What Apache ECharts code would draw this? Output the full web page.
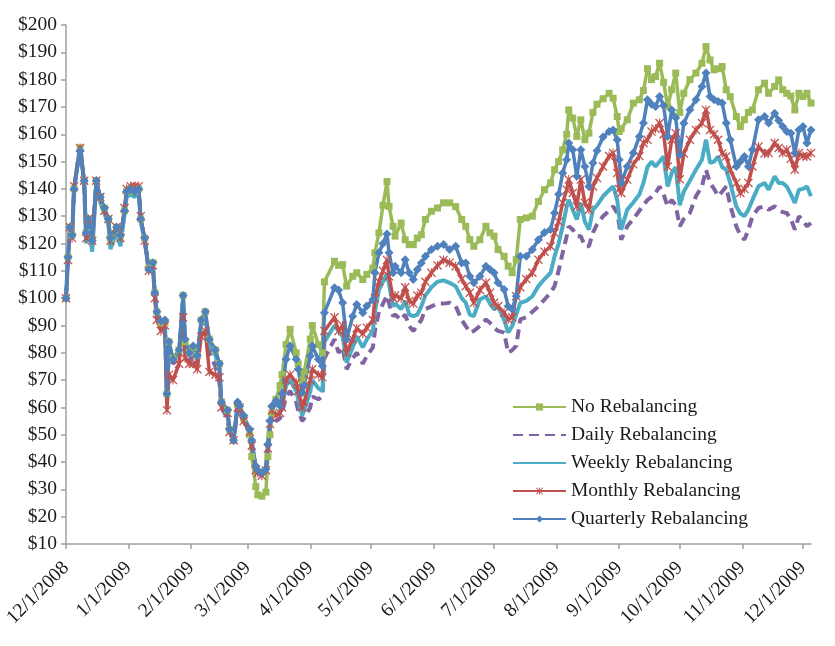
<!DOCTYPE html>
<html>
<head>
<meta charset="utf-8">
<script src="https://cdn.jsdelivr.net/npm/echarts@6/dist/echarts.min.js"></script>
<style>
  html, body { margin: 0; padding: 0; background: #fff; }
  #main { width: 835px; height: 646px; }
</style>
</head>
<body>
<div id="main"></div>
<script>
// 数据：日期 + 五条再平衡策略的组合价值（一行一个月）
var dates = [].concat(
  ['2008-12-01','2008-12-02','2008-12-03','2008-12-04','2008-12-05','2008-12-08','2008-12-10','2008-12-11','2008-12-12','2008-12-14','2008-12-16','2008-12-18','2008-12-20','2008-12-22','2008-12-23','2008-12-26','2008-12-28','2008-12-30','2008-12-31'],
  ['2009-01-02','2009-01-04','2009-01-06','2009-01-07','2009-01-09','2009-01-11','2009-01-13','2009-01-14','2009-01-15','2009-01-17','2009-01-19','2009-01-20','2009-01-21','2009-01-23','2009-01-26','2009-01-28','2009-01-29','2009-01-31'],
  ['2009-02-02','2009-02-04','2009-02-06','2009-02-08','2009-02-10','2009-02-13','2009-02-15','2009-02-16','2009-02-19','2009-02-20','2009-02-22','2009-02-24','2009-02-25','2009-02-27'],
  ['2009-03-02','2009-03-03','2009-03-05','2009-03-06','2009-03-08','2009-03-10','2009-03-11','2009-03-12','2009-03-13','2009-03-15','2009-03-17','2009-03-18','2009-03-20','2009-03-22','2009-03-25','2009-03-26','2009-03-28','2009-03-29'],
  ['2009-04-01','2009-04-02','2009-04-05','2009-04-07','2009-04-08','2009-04-13','2009-04-15','2009-04-17','2009-04-19','2009-04-22','2009-04-24','2009-04-27','2009-04-29'],
  ['2009-05-02','2009-05-03','2009-05-05','2009-05-07','2009-05-09','2009-05-10','2009-05-12','2009-05-13','2009-05-16','2009-05-18','2009-05-20','2009-05-22','2009-05-24','2009-05-26','2009-05-28','2009-05-31'],
  ['2009-06-03','2009-06-06','2009-06-09','2009-06-12','2009-06-15','2009-06-17','2009-06-19','2009-06-21','2009-06-24','2009-06-27','2009-06-29'],
  ['2009-07-01','2009-07-03','2009-07-06','2009-07-08','2009-07-10','2009-07-12','2009-07-14','2009-07-17','2009-07-20','2009-07-23','2009-07-26','2009-07-29','2009-07-31'],
  ['2009-08-02','2009-08-04','2009-08-06','2009-08-07','2009-08-09','2009-08-11','2009-08-13','2009-08-15','2009-08-17','2009-08-19','2009-08-21','2009-08-24','2009-08-27','2009-08-29','2009-08-31'],
  ['2009-09-01','2009-09-02','2009-09-05','2009-09-08','2009-09-11','2009-09-13','2009-09-15','2009-09-17','2009-09-19','2009-09-21','2009-09-23','2009-09-25','2009-09-27','2009-09-29'],
  ['2009-10-01','2009-10-03','2009-10-06','2009-10-09','2009-10-12','2009-10-14','2009-10-16','2009-10-18','2009-10-20','2009-10-22','2009-10-24','2009-10-26','2009-10-29','2009-10-31'],
  ['2009-11-02','2009-11-04','2009-11-06','2009-11-09','2009-11-12','2009-11-14','2009-11-17','2009-11-19','2009-11-21','2009-11-23','2009-11-25','2009-11-27','2009-11-29'],
  ['2009-12-01','2009-12-03','2009-12-05']
);

var noRebal = [].concat(
  [100,115,126,123,140,155,143,124,129,121,143,137,133,129,122,126,123,132,139],
  [140,139,140,129,122,111,113,102,95,91,91,65,84,78,81,101,84,80],
  [82,79,92,95,85,81,76,62,59,52,48,61,60,56],
  [50,42,31,28,27.5,29,42,50,58,63,68,72,83,88.6,80,76,70,73],
  [85,90,83,80,106,113.5,112,112.3,104.4,108,109.3,106.8,108.7],
  [111,116.6,123.9,134,142.7,133.6,126.3,122.7,127.5,121.4,119.6,119.6,122,123.2,128.8,131.8],
  [133,134.9,134.9,133.5,128.8,126.3,121.4,119,121.4,126.3,123.9],
  [122.7,117.8,115.3,111.7,109.3,114.1,128.8,129.4,130,135.4,139.7,142.2,147],
  [150,154.3,160,168.9,165.9,159.2,165.3,158,160.4,168,171,173,175,173.2,166.5],
  [161,162,165.3,171.4,172.6,176,184,180,181.1,186,179,170.2,176.3,182.4],
  [168,175,180,182.4,186,192.1,187.2,183.6,184,184.8,176.3,173.8,166.5,162.8],
  [165.3,168,168.9,176.3,178.7,175,177.5,179.9,176.3,175,174,168.9,175],
  [173.8,175,171.4]
);

var daily = [].concat(
  [100,115,126,123,140,156,142,122,128,119,143,136,132,128,120,125,121,131,138],
  [139,138,139,129,121,110,112,101,94,90,91,63,82,76,78,99,82,77],
  [79,75,89,92,80,75,69,60,56,50,47,60,59,54],
  [51,46,38,36,35,37,45,53,59,55,56,58,64,66,62,59,55,56],
  [60,64,63,64,78,85,80,82,74,78,80,76,78.8],
  [82,88,95,98,101,98,93.4,94,92,94,89.8,88,90,92,96,97],
  [98,98,98.3,97.1,92,89.8,87.4,88,89.8,92.2,91],
  [89.2,88,87.4,80,81,82.5,92.2,93,95,97,99.5,102,104.4],
  [110,116.6,122.7,126.3,125.1,122.7,122.7,119,119,124,127,130,132,133.6,131.2],
  [127,121.4,126.3,129,132,134,136,137,138.5,140.9,138,133.6,136,134],
  [126.3,129,131.2,137.3,140.9,147,142.2,140,137.3,139,140.9,134,126.3,123],
  [121.4,125.1,130,133,133.6,132.4,133.6,132.5,131.5,131.2,129,125.1,130],
  [128.5,126.3,127.5]
);

var weekly = [].concat(
  [100,115,125,122,140,156,142,120,127,117,142,135,131,127,118,124,119,131,137],
  [138,137,139,128,121,110,112,101,94,90,91,64,83,77,80,100,83,79],
  [81,77,91,93,83,79,74,61,58,51,48,61,60,55],
  [51,47,38,36,35.5,37,46,54,60,57,58,60,68,70,66,63,57,59],
  [66,70,67,66,84,90,88,86,76.4,82,86,82,84.9],
  [88,95,103,106,109,105,97,98,96,99,94,93.4,94,97,101,104],
  [106,106.5,105.6,104.4,100,98.3,94,93.4,99.5,100.7,98],
  [95.9,97.1,92,87.4,89.8,94,98.3,99,100.7,104.4,107,109.3,115.3],
  [120,126.3,133.6,136,132.4,128.8,134.9,128,125.1,132.4,134,137.3,139.5,140.9,136],
  [130,125.1,132.4,135,138,142.2,148,150,148.2,150,151.9,140.9,145.8,148],
  [134,139,143,147,150.7,158,149.5,150,151.9,148,147,142.2,133.6,131],
  [130,132.4,136,141,142.2,139.7,144.6,142.2,142.2,140.9,138,134.9,139.7],
  [140,140.9,137.3]
);

var monthly = [].concat(
  [100,114,126,122,141,155,143,122,129,121,143,137,132,129,121,126,122,133,140],
  [141,141,141,130,121,110,112,100,92,88,90,59,72,70,76,93,78,76],
  [76,74,86,88,73,72,71,60,58,51,48,60,60,55],
  [51,46,37,36,35,37,45,54,59,57,58,60,70,72,69,66,60,62],
  [70,74,72,71,88,93,88,90,80,85,89,87,89.2],
  [92,100,106,110,114,108,100,101,100,104,99,98,101,102,106,109.3],
  [112,114,113,111.7,107,104.4,102,98.3,103,105.6,102],
  [98.3,97,94.7,92.2,93,100.7,104,107,109.3,114.1,117,119,123.9],
  [128,134.9,139.7,143.4,138.5,133.6,143.4,134.9,132.4,140.9,144,148.2,152,153.1,145.8],
  [140,138.5,143.4,149,152,156.8,158,161,162,164.1,160,148.2,158,160.4],
  [143.5,153,158,161.6,164.1,168.9,161.6,160,158,153,151.9,147,142.2,138.5],
  [140,142.2,148.2,155.5,153,153.1,156.8,155,153.1,154.3,151,147,153.1],
  [152,151.9,153.1]
);

var quarterly = [].concat(
  [100,115,126,123,140,154,143,124,129,121,143,137,133,129,122,126,123,132,139],
  [140,139,140,129,122,110.5,113,102,95,91.6,92,65,84,77.6,81,101,85,80],
  [82.5,79,92,95,85,81,76,62,59,52,48,62,60.5,57],
  [52,48,38.6,37,36,37.4,46.5,55,60.5,62.4,60.5,65,77.6,82.5,77.6,74,65.4,68],
  [78.8,82.5,77.6,75.2,94.7,103.8,103,98.3,85,93.4,97.7,94.7,97.1],
  [99.5,109.3,116.6,120,123.5,116.6,109.3,111.7,109.3,114.1,109.3,106.8,110.5,112.9,115.3,117.8],
  [119,119.6,117.8,119,112.9,112.9,108,105.6,108,111.7,110.5],
  [109.3,105.6,103.2,97,95.9,100.7,115.3,115.3,117.8,121.4,124,125.1,131.2],
  [138,145.8,150.7,156.8,154.3,144.6,154.3,148.2,140.9,149.5,154,159,161,161.6,158],
  [150.7,142.2,148.2,153.1,159.2,164.1,172.6,171,170.2,173.8,170.5,159.2,168.9,166],
  [152.5,164,169,172.6,177.5,182.4,173.8,172.6,172,171.4,164.1,158,148.2,150],
  [151.9,148.2,154.3,165.3,166.5,164.1,167.7,165,162.8,161,160.4,153.1,161.6],
  [162.8,156.8,161.6]
);

var seriesNames = ['No Rebalancing', 'Daily Rebalancing', 'Weekly Rebalancing', 'Monthly Rebalancing', 'Quarterly Rebalancing'];
var seriesValues = [noRebal, daily, weekly, monthly, quarterly];

// 横轴月份刻度（本地时间戳）
var monthTicks = [];
for (var m = 0; m <= 12; m++) {
  monthTicks.push(new Date(2008, 11 + m, 1).getTime());
}

function toTime(s) {
  var p = s.split('-');
  return new Date(+p[0], +p[1] - 1, +p[2]).getTime();
}

function pairs(vals) {
  return vals.map(function (v, i) { return [toTime(dates[i]), v]; });
}

var starPath = 'path://M0,1L1,0L10,9L9,10Z M9,0L10,1L1,10L0,9Z M4.4,0H5.6V10H4.4Z';
var serif = 'Liberation Serif, Times New Roman, serif';
var textColor = '#1a1a1a';
var axisColor = '#a0a0a0';

var myChart = echarts.init(document.getElementById('main'));

var option = {
  animation: false,
  backgroundColor: '#fff',
  grid: {
    left: 66, right: 24, top: 25, bottom: 102,
    containLabel: false,
    outerBoundsMode: 'none'
  },
  legend: {
    orient: 'vertical',
    left: 507,
    top: 392,
    itemWidth: 53,
    itemHeight: 9,
    itemGap: 8,
    textStyle: { fontFamily: serif, fontSize: 19.5, color: textColor },
    data: [
      { name: seriesNames[0] },
      { name: seriesNames[1], itemStyle: { opacity: 0 } },
      { name: seriesNames[2], itemStyle: { opacity: 0 } },
      { name: seriesNames[3] },
      { name: seriesNames[4] }
    ]
  },
  xAxis: {
    type: 'value',
    min: new Date(2008, 11, 1).getTime(),
    max: new Date(2009, 11, 5).getTime(),
    splitLine: { show: false },
    axisLine: { lineStyle: { color: axisColor, width: 1.5 } },
    axisTick: { show: true, customValues: monthTicks, length: 5, lineStyle: { color: axisColor, width: 1.5 } },
    axisLabel: {
      customValues: monthTicks,
      rotate: 45,
      margin: 21,
      fontFamily: serif,
      fontSize: 19.5,
      color: textColor,
      formatter: function (value) {
        var d = new Date(value);
        return (d.getMonth() + 1) + '/' + d.getDate() + '/' + d.getFullYear();
      }
    }
  },
  yAxis: {
    type: 'value',
    min: 10,
    max: 200,
    interval: 10,
    splitLine: { show: false },
    axisLine: { show: true, lineStyle: { color: axisColor, width: 1.5 } },
    axisTick: { show: true, length: 5, lineStyle: { color: axisColor, width: 1.5 } },
    axisLabel: {
      margin: 9,
      fontFamily: serif,
      fontSize: 19.5,
      color: textColor,
      formatter: function (v) { return '$' + v; }
    }
  },
  series: [
    {
      name: seriesNames[0], type: 'line', data: pairs(seriesValues[0]),
      color: '#9BBB59', symbol: 'rect', symbolSize: 7, showAllSymbol: true,
      lineStyle: { width: 3.5, color: '#9BBB59' }, itemStyle: { color: '#9BBB59' }
    },
    {
      name: seriesNames[1], type: 'line', data: pairs(seriesValues[1]),
      color: '#8064A2', symbol: 'none',
      lineStyle: { width: 4, type: [10, 6], color: '#8064A2' }
    },
    {
      name: seriesNames[2], type: 'line', data: pairs(seriesValues[2]),
      color: '#4BACC6', symbol: 'none',
      lineStyle: { width: 4, color: '#4BACC6' }
    },
    {
      name: seriesNames[3], type: 'line', data: pairs(seriesValues[3]),
      color: '#C0504D', symbol: starPath, symbolSize: 9, showAllSymbol: true,
      lineStyle: { width: 3.5, color: '#C0504D' }, itemStyle: { color: '#C0504D' }
    },
    {
      name: seriesNames[4], type: 'line', data: pairs(seriesValues[4]),
      color: '#4F81BD', symbol: 'diamond', symbolSize: 9, showAllSymbol: true,
      lineStyle: { width: 3.5, color: '#4F81BD' }, itemStyle: { color: '#4F81BD' }
    }
  ]
};

myChart.setOption(option);
</script>
</body>
</html>
